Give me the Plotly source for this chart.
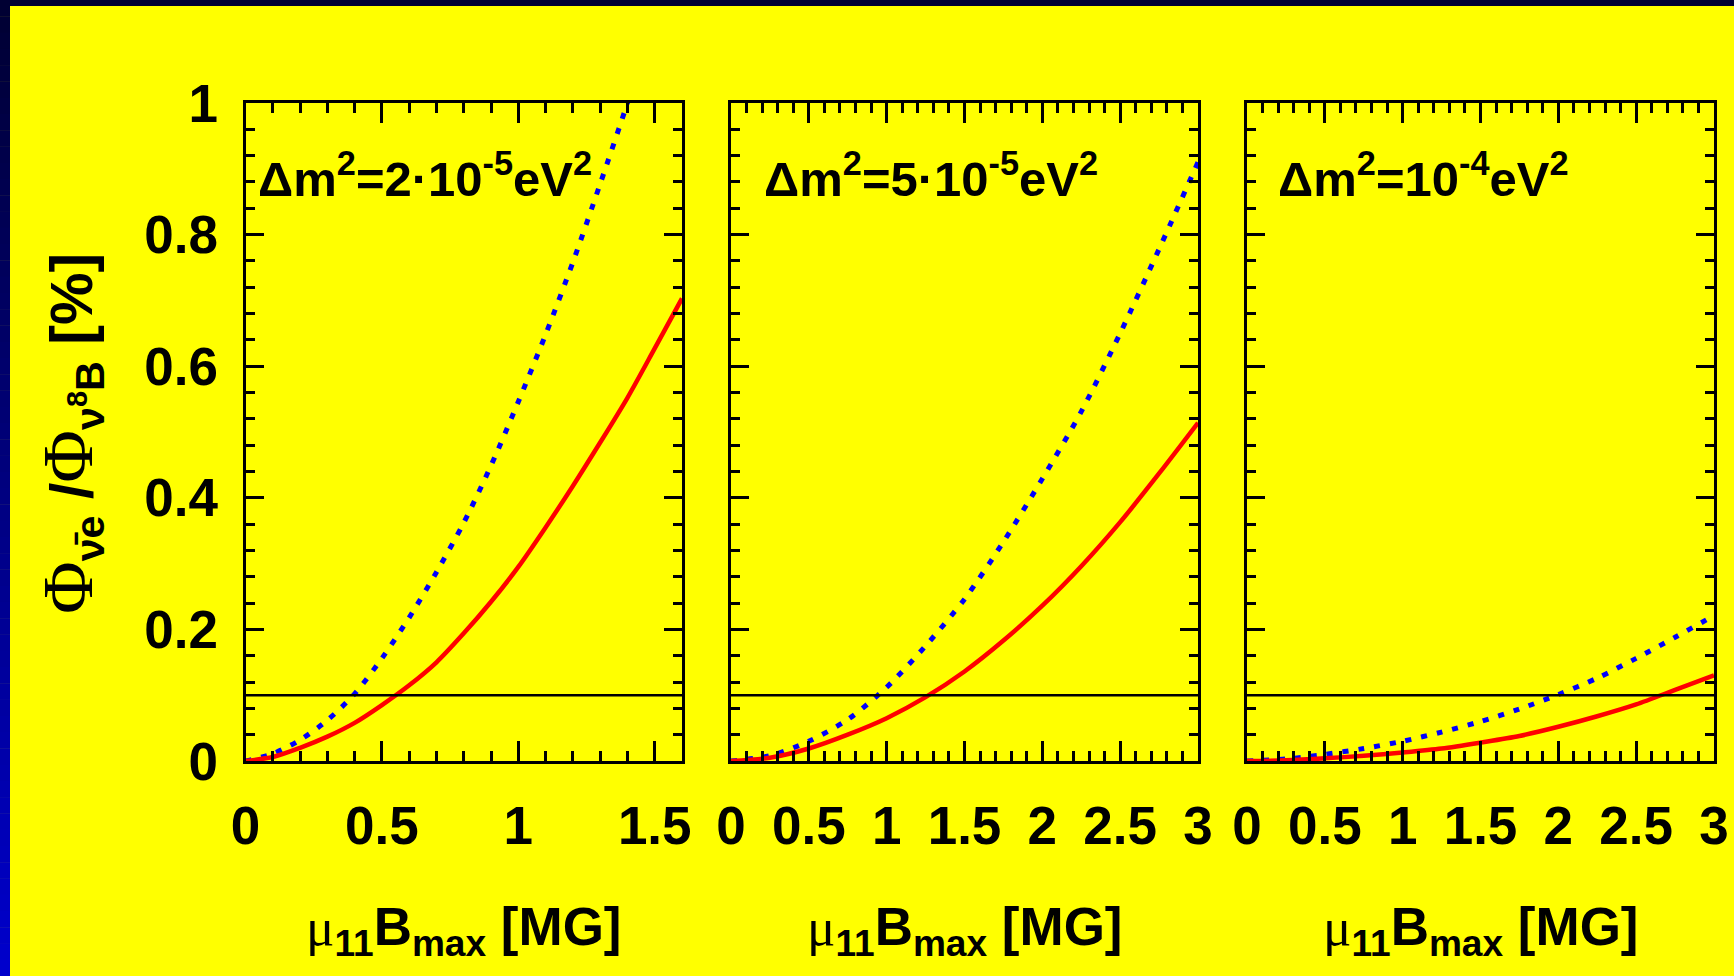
import plotly.graph_objects as go

W, H = 1734, 976

# ---------------- data ----------------
panel_labels = ["Δm<sup>2</sup>=2·10<sup>-5</sup>eV<sup>2</sup>",
                "Δm<sup>2</sup>=5·10<sup>-5</sup>eV<sup>2</sup>",
                "Δm<sup>2</sup>=10<sup>-4</sup>eV<sup>2</sup>"]

# panel 1 : dm2 = 2e-5 eV^2   (blue dotted / red solid)
p1_blue_x = [0, 0.1, 0.2, 0.3, 0.4, 0.5, 0.6, 0.7, 0.8, 0.9, 1.0, 1.1, 1.2, 1.3, 1.4, 1.5]
p1_blue_y = [0, 0.011, 0.032, 0.062, 0.102, 0.156, 0.218, 0.287, 0.362, 0.449, 0.546, 0.648,
             0.758, 0.877, 1.0, 1.13]
p1_red_x = [0, 0.1, 0.2, 0.3, 0.4, 0.5, 0.6, 0.7, 0.8, 0.9, 1.0, 1.1, 1.2, 1.3, 1.4, 1.5, 1.6]
p1_red_y = [0, 0.006, 0.020, 0.037, 0.058, 0.085, 0.115, 0.150, 0.194, 0.242, 0.295, 0.355,
            0.418, 0.484, 0.552, 0.627, 0.703]

# panel 2 : dm2 = 5e-5 eV^2
p2_x = [0, 0.25, 0.5, 0.75, 1.0, 1.25, 1.5, 1.75, 2.0, 2.25, 2.5, 2.75, 3.0]
p2_blue_y = [0, 0.008, 0.030, 0.063, 0.112, 0.175, 0.246, 0.333, 0.429, 0.531, 0.650, 0.778, 0.91]
p2_red_y = [0, 0.005, 0.019, 0.040, 0.065, 0.097, 0.136, 0.183, 0.236, 0.296, 0.363, 0.437, 0.514]

# panel 3 : dm2 = 1e-4 eV^2
p3_x = [0, 0.25, 0.5, 0.75, 1.0, 1.25, 1.5, 1.75, 2.0, 2.25, 2.5, 2.75, 3.0]
p3_blue_y = [0, 0.003, 0.010, 0.019, 0.030, 0.044, 0.060, 0.079, 0.101, 0.126, 0.156, 0.188, 0.221]
p3_red_y = [0, 0.001, 0.004, 0.008, 0.013, 0.019, 0.028, 0.038, 0.052, 0.068, 0.086, 0.108, 0.130]

threshold = 0.1

x_ranges = [[0, 1.6], [0, 3], [0, 3]]
x_tickvals = [[0, 0.5, 1, 1.5], [0, 0.5, 1, 1.5, 2, 2.5, 3], [0, 0.5, 1, 1.5, 2, 2.5, 3]]
x_ticktext = [["0", "0.5", "1", "1.5"], ["0", "0.5", "1", "1.5", "2", "2.5", "3"],
              ["0", "0.5", "1", "1.5", "2", "2.5", "3"]]
y_tickvals = [0, 0.2, 0.4, 0.6, 0.8, 1]
y_ticktext = ["0", "0.2", "0.4", "0.6", "0.8", "1"]

SERIF = "font-family:Liberation Serif;font-weight:normal"
x_title = f"<span style='{SERIF}'>μ</span><sub>11</sub>B<sub>max</sub> [MG]"
y_title = (f"<span style='{SERIF};font-size:72px'>Φ</span><sub>ν\u0304e</sub> "
           f"/<span style='{SERIF};font-size:72px'>Φ</span><sub>ν<sup>8</sup>B</sub> [%]")

# ---------------- style ----------------
FONT = "Liberation Sans, Arial, Helvetica, sans-serif"
FS = 53
YELLOW = "#ffff00"
RED = "#ff0000"
BLUE = "#0000ff"

# pixel layout -> paper fractions (margins are zero)
px_x = [(245.5, 682), (731, 1198), (1247, 1714)]
py_top, py_bot = 103, 761
def fx(p):
    return p / W
def fy(p):
    return 1 - p / H

fig = go.Figure()

series = [(p1_blue_x, p1_blue_y, p1_red_x, p1_red_y),
          (p2_x, p2_blue_y, p2_x, p2_red_y),
          (p3_x, p3_blue_y, p3_x, p3_red_y)]

for i, (bx, by, rx, ry) in enumerate(series):
    xa = "x" if i == 0 else f"x{i+1}"
    ya = "y" if i == 0 else f"y{i+1}"
    fig.add_trace(go.Scatter(x=bx, y=by, mode="lines", xaxis=xa, yaxis=ya,
                             line=dict(color=BLUE, width=5, dash="6px,10px", shape="spline",
                                       smoothing=0.8),
                             showlegend=False, hoverinfo="skip", cliponaxis=True))
    fig.add_trace(go.Scatter(x=rx, y=ry, mode="lines", xaxis=xa, yaxis=ya,
                             line=dict(color=RED, width=4.5, shape="spline", smoothing=0.8),
                             showlegend=False, hoverinfo="skip", cliponaxis=True))

layout = dict(width=W, height=H, margin=dict(l=0, r=0, t=0, b=0, pad=0), autosize=False,
              paper_bgcolor=YELLOW, plot_bgcolor=YELLOW, showlegend=False,
              font=dict(family=FONT, size=FS, color="black", weight="bold"))

for i in range(3):
    xk = "xaxis" if i == 0 else f"xaxis{i+1}"
    yk = "yaxis" if i == 0 else f"yaxis{i+1}"
    ya_ref = "y" if i == 0 else f"y{i+1}"
    xa_ref = "x" if i == 0 else f"x{i+1}"
    layout[xk] = dict(domain=[fx(px_x[i][0]), fx(px_x[i][1])], anchor=ya_ref,
                      range=x_ranges[i], tickvals=x_tickvals[i], ticktext=x_ticktext[i],
                      ticks="inside", ticklen=20, tickwidth=2.5, tickcolor="black",
                      minor=dict(dtick=0.1, tick0=0, ticks="inside", ticklen=10,
                                 tickwidth=2.5, tickcolor="black", showgrid=False),
                      showline=True, linewidth=3, linecolor="black", mirror="ticks",
                      showgrid=False, zeroline=False, ticklabelstandoff=16,
                      automargin=False,
                      tickfont=dict(family=FONT, size=FS, color="black", weight="bold"),
                      fixedrange=True)
    layout[yk] = dict(domain=[fy(py_bot), fy(py_top)], anchor=xa_ref,
                      range=[0, 1], tickvals=y_tickvals, ticktext=y_ticktext,
                      ticks="inside", ticklen=18, tickwidth=2.5, tickcolor="black",
                      minor=dict(dtick=0.04, tick0=0, ticks="inside", ticklen=9,
                                 tickwidth=2.5, tickcolor="black", showgrid=False),
                      showline=True, linewidth=3, linecolor="black", mirror="ticks",
                      showgrid=False, zeroline=False, showticklabels=(i == 0),
                      ticklabelstandoff=14, automargin=False,
                      tickfont=dict(family=FONT, size=FS, color="black", weight="bold"),
                      fixedrange=True)

fig.update_layout(**layout)

# threshold line
for i in range(3):
    xa_ref = "x" if i == 0 else f"x{i+1}"
    ya_ref = "y" if i == 0 else f"y{i+1}"
    fig.add_shape(type="line", xref=f"{xa_ref} domain", yref=ya_ref, x0=0, x1=1,
                  y0=threshold, y1=threshold, line=dict(color="black", width=2.5))

# panel labels
label_left_px = [256, 762, 1276]
for i in range(3):
    fig.add_annotation(text=panel_labels[i], xref="paper", yref="paper",
                       x=fx(label_left_px[i]), y=fy(175), xanchor="left", yanchor="middle",
                       showarrow=False,
                       font=dict(family=FONT, size=49, color="black", weight="bold"))

# x titles
for i in range(3):
    cx = (px_x[i][0] + px_x[i][1]) / 2
    fig.add_annotation(text=x_title, xref="paper", yref="paper", x=fx(cx), y=fy(930),
                       xanchor="center", yanchor="middle", showarrow=False,
                       font=dict(family=FONT, size=53, color="black", weight="bold"))

# y title
fig.add_annotation(text=y_title, xref="paper", yref="paper", x=fx(70), y=fy(434),
                   xanchor="center", yanchor="middle", textangle=-90, showarrow=False,
                   font=dict(family=FONT, size=59, color="black", weight="bold"))

# blue frame (top band and left gradient band)
fig.add_shape(type="rect", xref="paper", yref="paper", x0=0, x1=1, y0=fy(6), y1=1,
              fillcolor="#000033", line=dict(width=0), layer="above")
n = 60
for k in range(n):
    t = k / (n - 1)
    b = int(0x33 + (0xcc - 0x33) * t)
    col = f"rgb(0,0,{b})"
    y0p = k * H / n
    y1p = (k + 1) * H / n + 0.5
    fig.add_shape(type="rect", xref="paper", yref="paper", x0=0, x1=fx(10),
                  y0=max(0, fy(y1p)), y1=fy(y0p), fillcolor=col, line=dict(width=0),
                  layer="above")

fig.write_html("out.html", config={"displayModeBar": False},
               post_script="document.body.style.margin='0';document.body.style.overflow='hidden';")
